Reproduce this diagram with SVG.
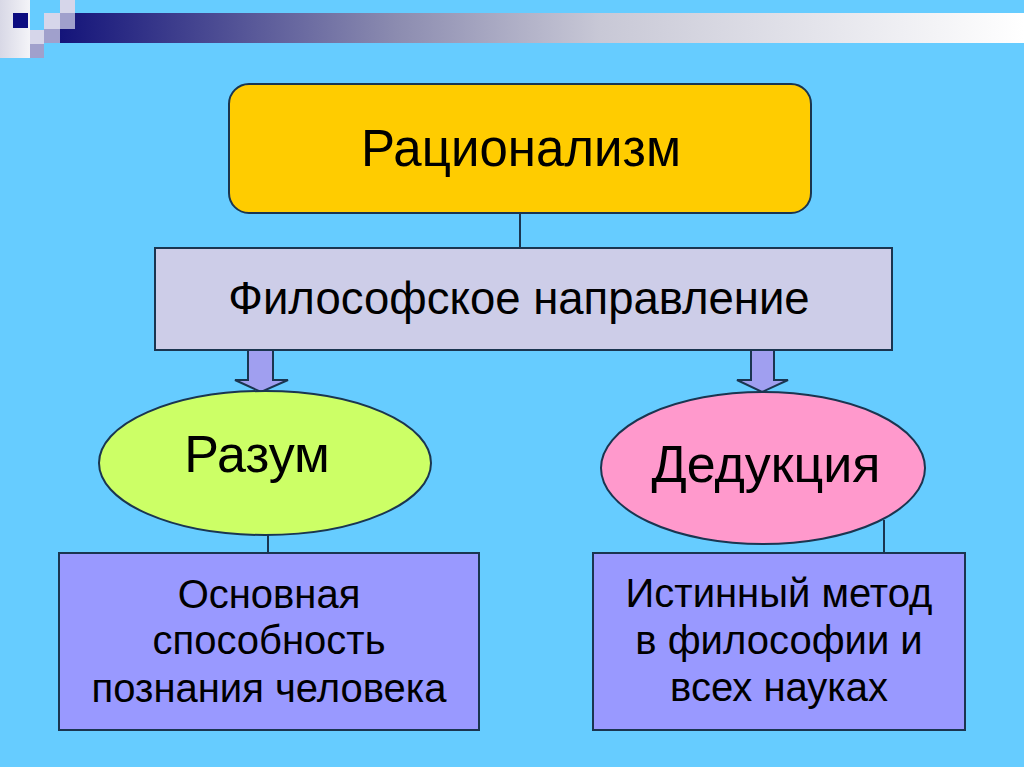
<svg xmlns="http://www.w3.org/2000/svg" width="1024" height="767" viewBox="0 0 1024 767">
<defs>
<linearGradient id="bar" x1="0" y1="0" x2="1" y2="0">
<stop offset="0" stop-color="#14147a"/>
<stop offset="0.35" stop-color="#8c8cb0"/>
<stop offset="0.56" stop-color="#c8c8d6"/>
<stop offset="1" stop-color="#ffffff"/>
</linearGradient>
<linearGradient id="col" x1="0" y1="0" x2="1" y2="0">
<stop offset="0" stop-color="#d8d8e6"/>
<stop offset="1" stop-color="#f4f4f8"/>
</linearGradient>
</defs>
<style>
text{font-family:"Liberation Sans",Arial,sans-serif;fill:#000;text-anchor:middle}
.ln{stroke:#1a3550;stroke-width:2;fill:none}
.bx{stroke:#1a3550;stroke-width:2}
.ar{fill:#a09ff0;stroke:#1a3550;stroke-width:2}
</style>
<rect x="0" y="0" width="1024" height="767" fill="#66ccff"/>
<g id="decor">
<rect x="60" y="13" width="964" height="30" fill="url(#bar)"/>
<rect x="0" y="0" width="30" height="58" fill="url(#col)"/>
<rect x="13" y="13" width="15" height="15" fill="#0c0c80"/>
<rect x="30" y="30" width="14" height="14" fill="#d6d6ea"/>
<rect x="30" y="44" width="14" height="14" fill="#a0a0cc"/>
<rect x="44" y="13" width="16" height="16" fill="#d6d6ea"/>
<rect x="44" y="29" width="16" height="14" fill="#a0a0cc"/>
<rect x="60" y="0" width="15" height="13" fill="#d6d6ea"/>
<rect x="60" y="13" width="15" height="16" fill="#a0a0cc"/>
</g>
<g id="connectors">
<line class="ln" x1="520" y1="213" x2="520" y2="248"/>
<line class="ln" x1="268" y1="535" x2="268" y2="553"/>
<line class="ln" x1="884" y1="520" x2="884" y2="553"/>
<path class="ar" d="M248,350 L273,350 L273,380 L288,380 L261,392 L235,380 L248,380 Z"/>
<path class="ar" d="M751,350 L774,350 L774,380 L788,380 L762,392 L737,380 L751,380 Z"/>
</g>
<g id="rationalism">
<rect class="bx" x="229" y="84" width="582" height="129" rx="20" fill="#ffcc00"/>
<text x="521" y="166" font-size="51">Рационализм</text>
</g>
<g id="philosophy">
<rect class="bx" x="155" y="248" width="737" height="102" fill="#cdcde8"/>
<text x="519" y="314" font-size="45.5">Философское направление</text>
</g>
<g id="reason">
<ellipse class="bx" cx="265" cy="463" rx="166" ry="72" fill="#ccff66"/>
<text x="257" y="472" font-size="52">Разум</text>
</g>
<g id="deduction">
<ellipse class="bx" cx="763" cy="468" rx="162" ry="76" fill="#ff99cc"/>
<text x="766" y="482" font-size="52">Дедукция</text>
</g>
<g id="reason-desc">
<rect class="bx" x="59" y="553" width="420" height="177" fill="#9999ff"/>
<text x="269" y="608" font-size="40">Основная</text>
<text x="269" y="654" font-size="40">способность</text>
<text x="269" y="702" font-size="40">познания человека</text>
</g>
<g id="deduction-desc">
<rect class="bx" x="593" y="553" width="372" height="177" fill="#9999ff"/>
<text x="779" y="607" font-size="40">Истинный метод</text>
<text x="779" y="654" font-size="40">в философии и</text>
<text x="779" y="701" font-size="40">всех науках</text>
</g>
</svg>
